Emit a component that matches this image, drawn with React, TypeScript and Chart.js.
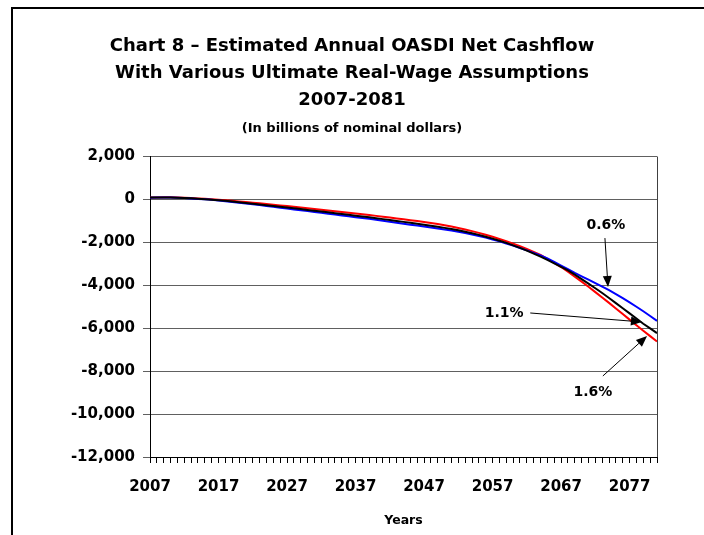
import React, { useEffect, useRef } from "react";
import { Chart, registerables } from "chart.js";

Chart.register(...registerables);

const years: string[] = [
  "2007", "2008", "2009", "2010", "2011", "2012", "2013", "2014", "2015", "2016",
  "2017", "2018", "2019", "2020", "2021", "2022", "2023", "2024", "2025", "2026",
  "2027", "2028", "2029", "2030", "2031", "2032", "2033", "2034", "2035", "2036",
  "2037", "2038", "2039", "2040", "2041", "2042", "2043", "2044", "2045", "2046",
  "2047", "2048", "2049", "2050", "2051", "2052", "2053", "2054", "2055", "2056",
  "2057", "2058", "2059", "2060", "2061", "2062", "2063", "2064", "2065", "2066",
  "2067", "2068", "2069", "2070", "2071", "2072", "2073", "2074", "2075", "2076",
  "2077", "2078", "2079", "2080", "2081",
];

// 0.6% ultimate real-wage differential (blue)
const wage06: number[] = [
  80, 90, 95, 90, 80, 65, 45, 25, 5, -20,
  -50, -80, -115, -150, -190, -225, -265, -305, -345, -385,
  -425, -465, -505, -545, -585, -625, -665, -705, -745, -785,
  -825, -865, -905, -950, -995, -1040, -1085, -1130, -1175, -1220,
  -1265, -1310, -1355, -1400, -1450, -1505, -1565, -1630, -1700, -1780,
  -1865, -1955, -2050, -2150, -2260, -2375, -2490, -2610, -2750, -2910,
  -3080, -3250, -3420, -3580, -3740, -3900, -4060, -4230, -4410, -4600,
  -4800, -5000, -5210, -5430, -5660,
];

// 1.1% ultimate real-wage differential (black)
const wage11: number[] = [
  85, 92, 95, 90, 80, 68, 50, 30, 10, -12,
  -38, -66, -96, -128, -162, -196, -232, -268, -304, -340,
  -376, -412, -450, -488, -526, -564, -602, -640, -678, -716,
  -755, -795, -835, -876, -918, -960, -1003, -1046, -1090, -1135,
  -1180, -1226, -1274, -1325, -1380, -1440, -1505, -1575, -1652, -1735,
  -1825, -1922, -2026, -2138, -2258, -2386, -2522, -2666, -2818, -2978,
  -3140, -3310, -3500, -3710, -3920, -4140, -4360, -4590, -4830, -5070,
  -5310, -5550, -5790, -6010, -6230,
];

// 1.6% ultimate real-wage differential (red)
const wage16: number[] = [
  85, 95, 100, 98, 90, 78, 62, 45, 28, 8,
  -15, -40, -66, -92, -120, -150, -182, -214, -246, -278,
  -310, -344, -378, -412, -446, -480, -514, -548, -584, -620,
  -656, -692, -728, -766, -806, -846, -886, -926, -968, -1010,
  -1054, -1100, -1150, -1205, -1265, -1330, -1400, -1476, -1558, -1646,
  -1740, -1840, -1946, -2058, -2178, -2306, -2442, -2586, -2770, -2960,
  -3150, -3370, -3600, -3830, -4070, -4320, -4570, -4820, -5080, -5340,
  -5600, -5860, -6120, -6370, -6620,
];

const titleLines: string[] = [
  "Chart 8 \u2013 Estimated Annual OASDI Net Cashflow",
  "With Various Ultimate Real-Wage Assumptions",
  "2007-2081",
];
const subtitleText = "(In billions of nominal dollars)";
const xAxisTitle = "Years";

// callouts: label, label position, arrow start and arrow tip (year, value)
const callouts = [
  { text: "0.6%", lx: 2073.55, ly: -1190, sx: 2073.4, sy: -1800, tx: 2073.85, ty: -4080 },
  { text: "1.1%", lx: 2058.7, ly: -5290, sx: 2062.5, sy: -5290, tx: 2078.8, ty: -5710 },
  { text: "1.6%", lx: 2071.65, ly: -8970, sx: 2073.1, sy: -8225, tx: 2079.55, ty: -6360 },
];

const FONT = "'DejaVu Sans', Verdana, sans-serif";

const calloutPlugin = {
  id: "callouts",
  afterDraw(chart: any) {
    const { ctx, chartArea, scales } = chart;
    const xs = scales.x;
    const ys = scales.y;
    const px = (yr: number) => xs.getPixelForValue(yr - 2007);
    const py = (v: number) => ys.getPixelForValue(v);
    ctx.save();
    // right border of plot
    ctx.strokeStyle = "#404040";
    ctx.lineWidth = 1;
    ctx.beginPath();
    ctx.moveTo(Math.round(chartArea.right) + 0.5, chartArea.top);
    ctx.lineTo(Math.round(chartArea.right) + 0.5, chartArea.bottom);
    ctx.stroke();

    ctx.fillStyle = "#000";
    ctx.strokeStyle = "#000";
    ctx.font = `bold 14px ${FONT}`;
    ctx.textAlign = "center";
    ctx.textBaseline = "middle";
    for (const c of callouts) {
      ctx.fillText(c.text, px(c.lx), py(c.ly));
      const x0 = px(c.sx), y0 = py(c.sy), x1 = px(c.tx), y1 = py(c.ty);
      const ang = Math.atan2(y1 - y0, x1 - x0);
      const len = 11, hw = 4.5;
      const bx = x1 - len * Math.cos(ang), by = y1 - len * Math.sin(ang);
      ctx.lineWidth = 1;
      ctx.beginPath();
      ctx.moveTo(x0, y0);
      ctx.lineTo(bx, by);
      ctx.stroke();
      ctx.beginPath();
      ctx.moveTo(x1, y1);
      ctx.lineTo(bx + hw * Math.sin(ang), by - hw * Math.cos(ang));
      ctx.lineTo(bx - hw * Math.sin(ang), by + hw * Math.cos(ang));
      ctx.closePath();
      ctx.fill();
    }
    ctx.restore();
  },
};

export default function App() {
  const ref = useRef<HTMLCanvasElement | null>(null);

  useEffect(() => {
    if (!ref.current) return;
    const chart = new Chart(ref.current, {
      type: "line",
      data: {
        labels: years,
        datasets: [
          { label: "0.6%", data: wage06, borderColor: "#0000ff", backgroundColor: "#0000ff", borderWidth: 2, pointRadius: 0, order: 1 },
          { label: "1.1%", data: wage11, borderColor: "#000000", backgroundColor: "#000000", borderWidth: 2, pointRadius: 0, order: 0 },
          { label: "1.6%", data: wage16, borderColor: "#ff0000", backgroundColor: "#ff0000", borderWidth: 2, pointRadius: 0, order: 2 },
        ],
      },
      options: {
        responsive: false,
        animation: false,
        layout: { padding: { top: 0, left: 0, right: 0, bottom: 0 } },
        plugins: {
          legend: { display: false },
          tooltip: { enabled: false },
          title: {
            display: true,
            text: titleLines,
            color: "#000",
            font: { family: FONT, size: 18, weight: "bold", lineHeight: 1.5 },
            padding: { top: 32.5, bottom: 0 },
          },
          subtitle: {
            display: true,
            text: subtitleText,
            color: "#000",
            font: { family: FONT, size: 13, weight: "bold", lineHeight: 1.2 },
            padding: { top: 7, bottom: 20.4 },
          },
        },
        scales: {
          x: {
            type: "category",
            offset: false,
            grid: { drawOnChartArea: false, drawTicks: true, tickLength: 6, color: "#000", lineWidth: 1 },
            border: { display: true, color: "#000", width: 1 },
            ticks: {
              autoSkip: false,
              maxRotation: 0,
              minRotation: 0,
              padding: 15,
              color: "#000",
              font: { family: FONT, size: 15, weight: "bold" },
              callback: (_v: any, i: number) => (i % 10 === 0 ? years[i] : ""),
            },
            title: {
              display: true,
              text: xAxisTitle,
              color: "#000",
              font: { family: FONT, size: 12.5, weight: "bold", lineHeight: 1.2 },
              padding: { top: 4, bottom: 7 },
            },
            afterFit: (s: any) => { s.height = 78; },
          },
          y: {
            min: -12000,
            max: 2000,
            grid: { color: "#606060", lineWidth: 1, drawTicks: true, tickLength: 7 },
            border: { display: true, color: "#000", width: 1 },
            ticks: {
              stepSize: 2000,
              padding: 8,
              color: "#000",
              font: { family: FONT, size: 15, weight: "bold" },
              callback: (v: any) => Number(v).toLocaleString("en-US"),
            },
            afterFit: (s: any) => { s.width = 150; },
          },
          yRight: {
            position: "right",
            min: -12000,
            max: 2000,
            grid: { display: false, drawOnChartArea: false },
            border: { display: false },
            ticks: { display: false },
            afterFit: (s: any) => { s.width = 47; },
          },
        },
      },
      plugins: [calloutPlugin],
    } as any);
    return () => chart.destroy();
  }, []);

  return (
    <div style={{ position: "absolute", left: 0, top: 0, width: 704, height: 535, background: "#fff" }}>
      <div
        style={{
          position: "absolute",
          left: 11,
          top: 7,
          width: 693,
          height: 528,
          boxSizing: "border-box",
          borderLeft: "2px solid #000",
          borderTop: "2px solid #000",
        }}
      />
      <canvas
        ref={ref}
        width={704}
        height={535}
        style={{ position: "absolute", left: 0, top: 0, width: 704, height: 535, display: "block" }}
      />
    </div>
  );
}
